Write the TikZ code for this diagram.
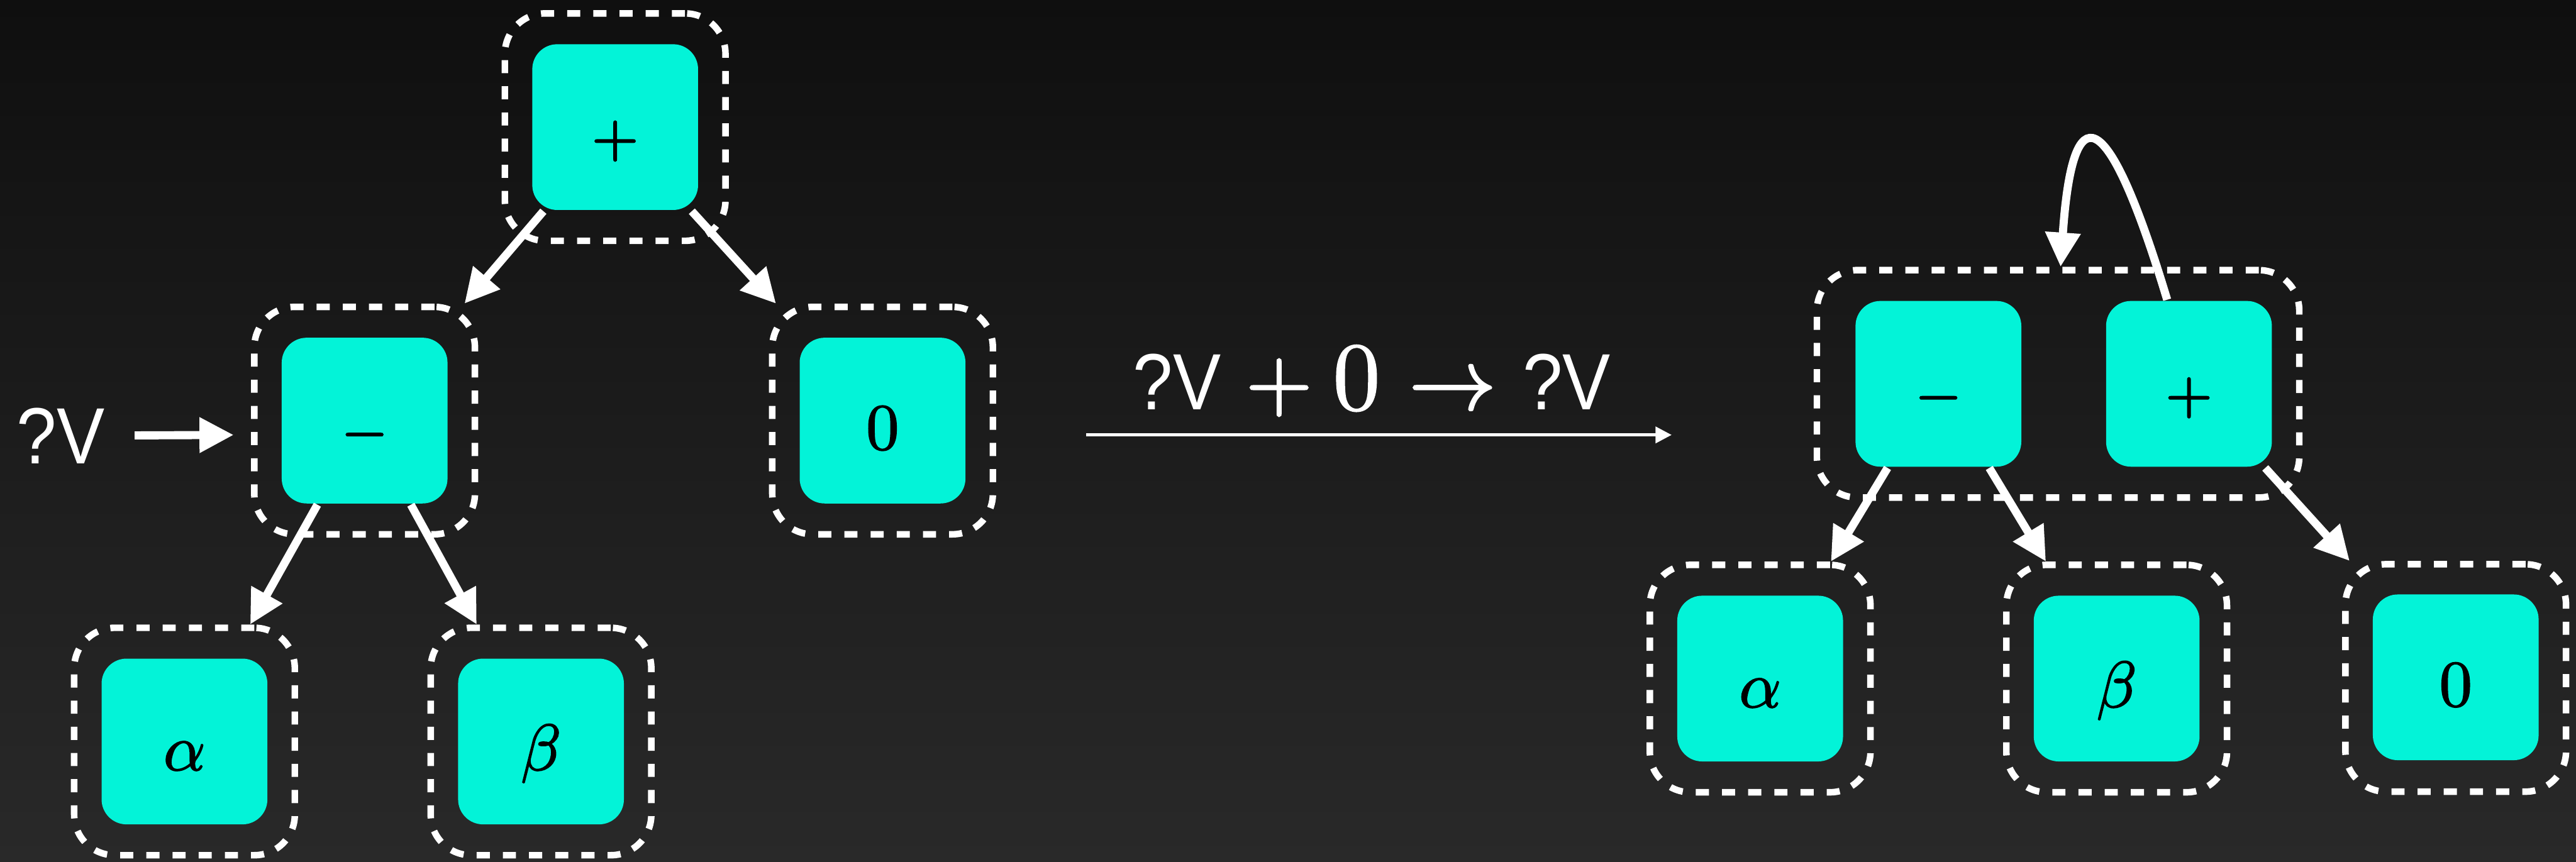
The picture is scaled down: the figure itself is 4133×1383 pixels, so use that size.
\RequirePackage{fix-cm}
\documentclass[tikz,border=0pt]{standalone}
\usepackage{fontspec}
\newfontfamily\qvfamily[FakeStretch=0.9]{Liberation Sans}
\newcommand{\qvfont}{\fontsize{12.8}{14}\selectfont\qvfamily}
% thicken glyph strokes slightly (fill + stroke text render mode)
\newcommand{\heavy}[2]{\special{pdf:literal 2 Tr #1 w}#2\special{pdf:literal 0 Tr}}
% symbol at a given size, slightly thickened
\newcommand{\sym}[3]{{\fontsize{#1}{#1}\selectfont\heavy{#2}{$#3$}}}
\usetikzlibrary{arrows.meta}
\definecolor{nodecyan}{RGB}{3,243,216}
\definecolor{bgtop}{RGB}{15,15,15}
\definecolor{bgbot}{RGB}{41,41,41}
\begin{document}
\begin{tikzpicture}[x=0.1pt,y=-0.1pt,
  term/.style={rectangle, rounded corners=4pt, fill=nodecyan, minimum width=26.6pt,
    minimum height=26.6pt, inner sep=0pt, text=black, text height=9.2pt, text depth=0pt},
  grp/.style={rectangle, rounded corners=6.5pt, draw=white, line width=1.05pt,
    dash pattern=on 2.1pt off 2.1pt, minimum width=35.4pt, minimum height=36.5pt, inner sep=0pt},
  edge/.style={draw=white, line width=1.3pt, -{Triangle[length=5.5pt,width=5.4pt]}},
  thinedge/.style={draw=white, line width=0.5pt, -{Triangle[length=2.6pt,width=2.6pt]}},
  lbl/.style={inner sep=0pt, text=white}
]
\useasboundingbox (0,0) rectangle (4133,1383);
\shade[top color=bgtop, bottom color=bgbot] (0,0) rectangle (4133,1383);

% ---------- left tree ----------
\node[grp] (lpG) at (987,204) {};
\node[grp] (lmG) at (585,675) {};
\node[grp] (l0G) at (1416,675) {};
\node[grp] (laG) at (296,1190) {};
\node[grp] (lbG) at (868,1190) {};
\node[term] (lp) at (987,204) {\sym{9.4}{0.2}{+}};
\node[term] (lm) at (585,675) {\sym{9.4}{0.2}{-}};
\node[term] (l0) at (1416,675) {\sym{10.5}{0.18}{0}};
\node[term] (la) at (296,1190) {\sym{10.5}{0.18}{\alpha}};
\node[term] (lb) at (868,1190) {\sym{10.5}{0.18}{\beta}};
\draw[edge] (lp) -- (lmG);
\draw[edge] (lp) -- (l0G);
\draw[edge] (lm) -- (laG);
\draw[edge] (lm) -- (lbG);

% ?V pointer
\node[lbl, anchor=base east] (qv) at (170,744) {\qvfont ?V};
\coordinate (qvEnd) at (375,698);
\draw[edge, shorten <=4.6pt] (qv) -- (qvEnd);

% ---------- rewrite rule ----------
\node[lbl, anchor=base west] (rule) at (1816,657)
  {{\qvfont ?V}\kern4.0pt\sym{14}{0.3}{+}\kern3.3pt\sym{15.5}{0.25}{0}\kern4.6pt\sym{14}{0.3}{\rightarrow}\kern4.3pt{\qvfont ?V}};
\coordinate (m1) at (1743,698);
\coordinate (m2) at (2682,698);
\draw[thinedge] (m1) -- (m2);

% ---------- right tree ----------
\node[grp, minimum width=77.4pt] (rG) at (3302,616) {};
\node[grp] (raG) at (2824,1089) {};
\node[grp] (rbG) at (3396,1089) {};
\node[grp] (r0G) at (3940,1088) {};
\node[term] (rm) at (3110,616) {\sym{9.4}{0.2}{-}};
\node[term] (rp) at (3512,616) {\sym{9.4}{0.2}{+}};
\node[term] (ra) at (2824,1089) {\sym{10.5}{0.18}{\alpha}};
\node[term] (rb) at (3396,1089) {\sym{10.5}{0.18}{\beta}};
\node[term] (r0) at (3940,1087) {\sym{10.5}{0.18}{0}};
\draw[edge] (rm) -- (raG);
\draw[edge] (rm) -- (rbG);
\draw[edge] (rp) -- (r0G);
\draw[edge] ([xshift=-3.5pt]rp.north) .. controls (3380,160) and (3325,150) .. ([xshift=0.4pt]rG.north);
\end{tikzpicture}
\end{document}
